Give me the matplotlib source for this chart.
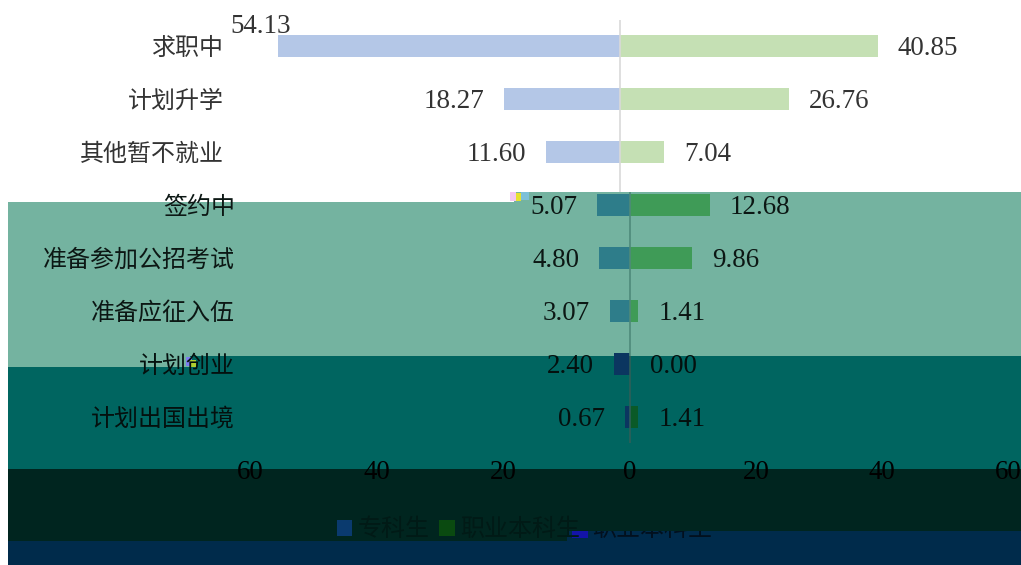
import matplotlib
matplotlib.use('Agg')
import matplotlib.pyplot as plt
from matplotlib.patches import Polygon, Rectangle, Patch

# ---------------- data ----------------
categories = ['求职中', '计划升学', '其他暂不就业', '签约中', '准备参加公招考试',
              '准备应征入伍', '计划创业', '计划出国出境']
left_values = [54.13, 18.27, 11.60, 5.07, 4.80, 3.07, 2.40, 0.67]
right_values = [40.85, 26.76, 7.04, 12.68, 9.86, 1.41, 0.00, 1.41]
series_names = ['专科生', '职业本科生']
x_ticks = [-60, -40, -20, 0, 20, 40, 60]
x_tick_labels = ['60', '40', '20', '0', '20', '40', '60']

# ---------------- style ----------------
W, H, DPI = 1021, 565, 100
CJK = ['Noto Sans CJK SC', 'DejaVu Sans']
NUM = ['Liberation Serif', 'DejaVu Serif']
cjk_size = 24 * 72 / DPI
num_size = 27 * 72 / DPI

# per-row colours (the lower part of the picture is tinted by colour bands)
left_colors = ['#B4C7E7', '#B4C7E7', '#B4C7E7', '#2E7D8A', '#2E7D8A', '#2E7D8A', '#0B3660', '#0B3660']
right_colors = ['#C5E0B4', '#C5E0B4', '#C5E0B4', '#3F9B57', '#3F9B57', '#3F9B57', '#0A5A28', '#0A5A28']
text_colors = ['#333333', '#333333', '#333333', '#0C1714', '#0C1714', '#0C1714', '#04100E', '#04100E']
# label offsets in px (dx, dy up)
left_label_offsets = [(13, 22)] + [(-20, 0)] * 7
right_label_offsets = [(20, 0)] * 8

fig = plt.figure(figsize=(W / DPI, H / DPI), dpi=DPI)
fig.patch.set_facecolor('white')


def fx(px):
    return px / W


def fy(py):
    return 1 - py / H


def band(points, color):
    poly = Polygon([(fx(x), fy(y)) for x, y in points], closed=True,
                   transform=fig.transFigure, facecolor=color, edgecolor='none', zorder=-5)
    fig.patches.append(poly)


# colour bands
band([(8, 202), (514, 202), (514, 192), (1021, 192), (1021, 356), (190, 356), (190, 367), (8, 367)], '#74B3A0')
band([(8, 367), (190, 367), (190, 356), (1021, 356), (1021, 469), (8, 469)], '#006560')
band([(8, 469), (1021, 469), (1021, 531), (567, 531), (567, 541), (8, 541)], '#00251F')
band([(8, 541), (567, 541), (567, 531), (1021, 531), (1021, 565), (8, 565)], '#002B4B')
# small glitch specks
for (x0, y0, w, h, c) in [(510, 192, 6, 9, '#F4C8F0'), (516, 193, 5, 8, '#E8E030'),
                          (521, 192, 8, 8, '#7CC0D8'), (186, 357, 6, 9, '#7C7CF0'),
                          (190, 360, 6, 7, '#B0D030')]:
    fig.patches.append(Rectangle((fx(x0), fy(y0 + h)), w / W, h / H, transform=fig.transFigure,
                                 facecolor=c, edgecolor='none', zorder=-4))

row_h = 53.0
top_y = 19.5
split_px = 192.0
split = (split_px - top_y) / row_h - 0.5
grey_split = (356 - top_y) / row_h - 0.5

ax_top = fig.add_axes([fx(240.5), fy(split_px), 758 / W, (split_px - top_y) / H])
ax_bot = fig.add_axes([fx(250.5), fy(443.5), 758 / W, (443.5 - split_px) / H])

for ax in (ax_top, ax_bot):
    ax.set_facecolor('none')
    ax.set_xlim(-60, 60)
    for s in ax.spines.values():
        s.set_visible(False)
    ax.tick_params(length=0)
ax_top.set_ylim(split, -0.5)
ax_bot.set_ylim(7.5, split)

top_rows = [0, 1, 2]
bot_rows = [3, 4, 5, 6, 7]
ax_top.set_yticks(top_rows)
ax_top.set_yticklabels([categories[i] for i in top_rows], fontfamily=CJK, fontsize=cjk_size)
ax_bot.set_yticks(bot_rows)
ax_bot.set_yticklabels([categories[i] for i in bot_rows], fontfamily=CJK, fontsize=cjk_size)
for ax, rows in ((ax_top, top_rows), (ax_bot, bot_rows)):
    for lab, i in zip(ax.get_yticklabels(), rows):
        lab.set_color(text_colors[i])
ax_top.tick_params(axis='y', pad=11.8)
ax_bot.tick_params(axis='y', pad=11.3)
ax_top.set_xticks([])
ax_bot.set_xticks(x_ticks)
ax_bot.set_xticklabels(x_tick_labels, fontfamily=NUM, fontsize=num_size, color='#000000')
ax_bot.tick_params(axis='x', pad=12)

for i in range(len(categories)):
    ax = ax_top if i in top_rows else ax_bot
    lv, rv = left_values[i], right_values[i]
    ax.barh(i, -lv, height=0.41, color=left_colors[i], zorder=2)
    ax.barh(i, rv, height=0.41, color=right_colors[i], zorder=2)
    dx, dy = left_label_offsets[i]
    ax.annotate(f'{lv:.2f}', xy=(-lv, i), xytext=(dx * 0.72, dy * 0.72 - 1.5),
                textcoords='offset points', ha='right', va='center',
                fontfamily=NUM, fontsize=num_size, color=text_colors[i], annotation_clip=False)
    dx, dy = right_label_offsets[i]
    ax.annotate(f'{rv:.2f}', xy=(rv, i), xytext=(dx * 0.72, dy * 0.72 - 1.5),
                textcoords='offset points', ha='left', va='center',
                fontfamily=NUM, fontsize=num_size, color=text_colors[i], annotation_clip=False)

ax_top.axvline(0, color='#D9D9D9', lw=1.2, zorder=3)
ax_bot.vlines(0, split, grey_split, color='#4E8A7A', lw=1.2, zorder=3)
ax_bot.vlines(0, grey_split, 7.5, color='#2E5E58', lw=1.2, zorder=3)

# legend (inside the dark band)
handles = [Patch(facecolor='#0A3A6E', edgecolor='none'), Patch(facecolor='#0A4A10', edgecolor='none')]
leg = fig.legend(handles, series_names, loc='center left', bbox_to_anchor=(fx(337), fy(530)),
                 ncol=2, frameon=False, borderpad=0, borderaxespad=0,
                 handlelength=0.63, handleheight=0.63, handletextpad=0.22, columnspacing=0.42,
                 prop={'family': CJK, 'size': cjk_size})
for txt in leg.get_texts():
    txt.set_color('#011A16')

# shifted fragment visible in the bottom band
clip = Rectangle((fx(567), fy(541)), (1021 - 567) / W, 10 / H, transform=fig.transFigure,
                 facecolor='none', edgecolor='none')
fig.patches.append(clip)
sq = Rectangle((fx(572), fy(538)), 16 / W, 15 / H, transform=fig.transFigure,
               facecolor='#1414A8', edgecolor='none', zorder=3)
sq.set_clip_path(clip)
fig.patches.append(sq)
t = fig.text(fx(592), fy(530), series_names[1], ha='left', va='center', fontfamily=CJK,
             fontsize=cjk_size, color='#02101E')
t.set_clip_path(clip)

fig.savefig('out.png', dpi=DPI)
